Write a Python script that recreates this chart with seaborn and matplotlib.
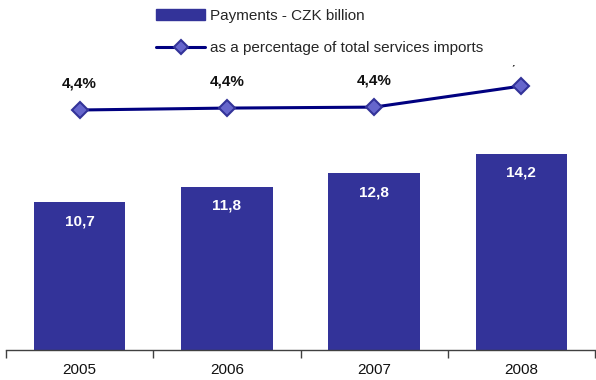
import matplotlib
matplotlib.use("Agg")
import matplotlib.pyplot as plt
import matplotlib.patches as mpatches
from matplotlib.lines import Line2D
import numpy as np
import seaborn as sns

years = ["2005", "2006", "2007", "2008"]
payments = [10.7, 11.8, 12.8, 14.2]
pct = [4.36, 4.40, 4.42, 4.86]

sns.set_theme(style="white")
plt.rcParams["font.family"] = ["Liberation Sans", "DejaVu Sans"]

BAR = "#333399"
LINE = "#000080"
MFACE = "#6666CC"

W, H = 596, 380
fig = plt.figure(figsize=(W / 100, H / 100), dpi=100)
ax = fig.add_axes([6 / W, 1 - 350 / H, 589 / W, 350 / H])

sns.barplot(x=years, y=payments, color=BAR, saturation=1, width=0.62, ax=ax, zorder=2,
            edgecolor=BAR, linewidth=0)
ax.set_xlim(-0.5, 3.5)
ax.set_ylim(0, 350 / 13.8)
ax.set_xlabel("")
ax.set_ylabel("")
ax.set_yticks([])
for s in ["left", "right", "top"]:
    ax.spines[s].set_visible(False)
ax.spines["bottom"].set_color("#404040")
ax.spines["bottom"].set_linewidth(1)
ax.set_xticks(np.arange(len(years)))
ax.set_xticklabels(years, fontsize=11, color="#111111")
ax.tick_params(axis="x", which="both", bottom=True)
ax.tick_params(axis="x", which="major", length=0, pad=9)
ax.set_xticks(np.arange(-0.5, len(years)), minor=True)
ax.tick_params(axis="x", which="minor", length=6, width=1, color="#404040", direction="out")

for i, v in enumerate(payments):
    ax.annotate(f"{v:.1f}".replace(".", ","), (i, v), xytext=(0, -13.5), textcoords="offset points",
                ha="center", va="center", color="white", fontsize=11, fontweight="bold")

ax2 = ax.twinx()
px_per_unit = 48.0
lo = 4.36 - 240 / px_per_unit
ax2.set_ylim(lo, lo + 350 / px_per_unit)
ax2.set_yticks([])
for s in ["left", "right", "top", "bottom"]:
    ax2.spines[s].set_visible(False)
xs = np.arange(len(years))
sns.lineplot(x=xs, y=pct, ax=ax2, color=LINE, linewidth=2.2, marker="D", markersize=8,
             markerfacecolor=MFACE, markeredgecolor=BAR, markeredgewidth=1.5)
ax2.set_xlim(-0.5, 3.5)
for i, v in enumerate(pct):
    ax2.annotate(f"{v:.1f}".replace(".", ",") + "%", (i, v), xytext=(0, 16.5), textcoords="offset points",
                 ha="center", va="baseline", color="#111111", fontsize=11, fontweight="bold")

# legend area (white box covering the top)
cover = mpatches.Rectangle((140 / W, 1 - 65 / H), 456 / W, 65 / H, transform=fig.transFigure,
                           facecolor="white", edgecolor="none", zorder=3)
fig.patches.append(cover)

handles = [mpatches.Patch(facecolor=BAR, edgecolor=BAR),
           Line2D([0], [0], color=LINE, linewidth=2.2, marker="D", markersize=7,
                  markerfacecolor=MFACE, markeredgecolor=BAR, markeredgewidth=1.5)]
labels = ["Payments - CZK billion", "as a percentage of total services imports"]
leg = fig.legend(handles, labels, loc="upper left", bbox_to_anchor=(150 / W, 1 - 3 / H),
                 frameon=False, fontsize=11, handlelength=3.2, handletextpad=0.3,
                 labelspacing=1.2, borderaxespad=0)
leg.set_zorder(5)

fig.savefig("out.png", dpi=100, facecolor="white")
